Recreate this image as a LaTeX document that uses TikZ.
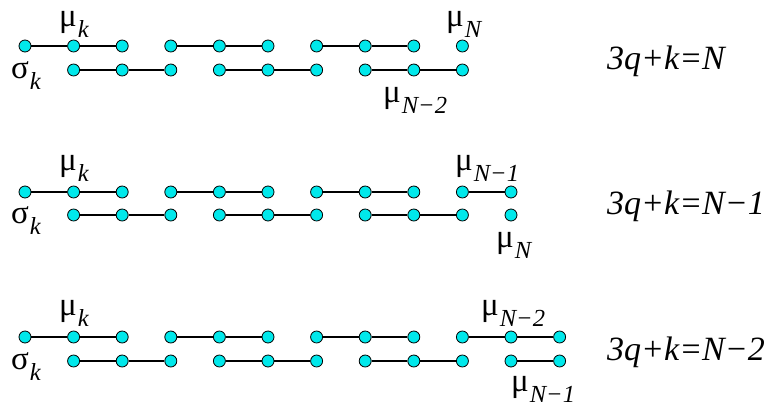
\documentclass[tikz,border=0pt]{standalone}
\usepackage{fontspec}
\setmainfont{Liberation Serif}
\definecolor{dotcyan}{RGB}{0,232,235}
\tikzset{
  dot/.style={circle,draw=black,line width=0.8pt,fill=dotcyan,minimum size=12pt,inner sep=0pt},
  bond/.style={line width=1.8pt},
  lab/.style={anchor=base west,inner sep=0pt,font=\fontsize{33}{33}\selectfont},
  eq/.style={anchor=base west,inner sep=0pt,font=\fontsize{34}{34}\selectfont\itshape},
}
\newcommand{\lsub}[1]{\kern1pt\raisebox{-11pt}{\fontsize{24.5}{24.5}\selectfont\itshape #1}}
\begin{document}
\begin{tikzpicture}[x=1pt,y=-1pt]
\useasboundingbox (0,0) rectangle (768,410);
% ---------- row 1 ----------
\foreach \i in {0,...,9} \node[dot] (a\i) at ({25+48.6*\i},46) {};
\foreach \i in {1,...,9} \node[dot] (b\i) at ({25+48.6*\i},70) {};
\draw[bond] (a0)--(a1)--(a2) (a3)--(a4)--(a5) (a6)--(a7)--(a8);
\draw[bond] (b1)--(b2)--(b3) (b4)--(b5)--(b6) (b7)--(b8)--(b9);
\node[lab] (amk) at (59,26) {μ\lsub{k}};
\node[lab] (ask) at (11,78) {σ\lsub{k}};
\node[lab] (amN) at (446,26) {μ\lsub{N}};
\node[lab] (amN2) at (383,102) {μ\lsub{N−2}};
\node[eq] (aeq) at (607,69) {3q+k=N};
% ---------- row 2 ----------
\foreach \i in {0,...,10} \node[dot] (c\i) at ({25+48.6*\i},192) {};
\foreach \i in {1,...,10} \node[dot] (d\i) at ({25+48.6*\i},215) {};
\draw[bond] (c0)--(c1)--(c2) (c3)--(c4)--(c5) (c6)--(c7)--(c8) (c9)--(c10);
\draw[bond] (d1)--(d2)--(d3) (d4)--(d5)--(d6) (d7)--(d8)--(d9);
\node[lab] (cmk) at (59,170) {μ\lsub{k}};
\node[lab] (csk) at (11,223) {σ\lsub{k}};
\node[lab] (cmN1) at (455,170) {μ\lsub{N−1}};
\node[lab] (cmN) at (496,247) {μ\lsub{N}};
\node[eq] (ceq) at (607,214) {3q+k=N−1};
% ---------- row 3 ----------
\foreach \i in {0,...,11} \node[dot] (e\i) at ({25+48.6*\i},337) {};
\foreach \i in {1,...,11} \node[dot] (f\i) at ({25+48.6*\i},361) {};
\draw[bond] (e0)--(e1)--(e2) (e3)--(e4)--(e5) (e6)--(e7)--(e8) (e9)--(e10)--(e11);
\draw[bond] (f1)--(f2)--(f3) (f4)--(f5)--(f6) (f7)--(f8)--(f9) (f10)--(f11);
\node[lab] (emk) at (59,315) {μ\lsub{k}};
\node[lab] (esk) at (11,369) {σ\lsub{k}};
\node[lab] (emN2) at (481,315) {μ\lsub{N−2}};
\node[lab] (emN1) at (511,391) {μ\lsub{N−1}};
\node[eq] (eeq) at (607,360) {3q+k=N−2};
\end{tikzpicture}
\end{document}
